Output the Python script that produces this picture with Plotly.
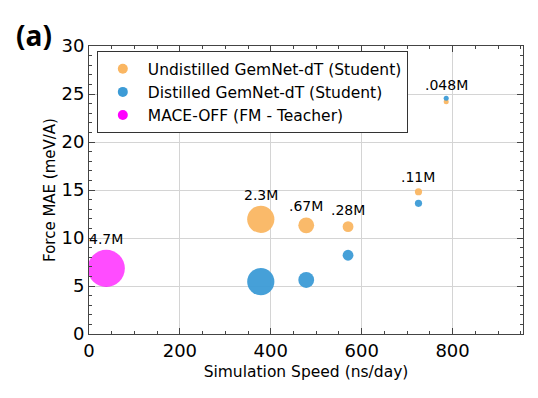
import plotly.graph_objects as go

# ---- data ----
student_params = ["2.3M", ".67M", ".28M", ".11M", ".048M"]
student_params_m = [2.3, 0.67, 0.28, 0.11, 0.048]
student_speed = [378, 478, 570, 725, 786]
undistilled_mae = [11.95, 11.32, 11.18, 14.82, 24.2]
distilled_mae = [5.45, 5.63, 8.2, 13.61, 24.55]

teacher_params = ["4.7M"]
teacher_params_m = [4.7]
teacher_speed = [38]
teacher_mae = [6.84]

series_names = ["Undistilled GemNet-dT (Student)",
                "Distilled GemNet-dT (Student)",
                "MACE-OFF (FM - Teacher)"]

C_UND = "#FAB662"
C_DIS = "#3C9BD6"
C_MACE = "#FF00FF"
FONT = "DejaVu Sans"


def diam(p):
    return 18.9 * p ** 0.437


fig = go.Figure()

fig.add_trace(go.Scatter(x=student_speed, y=undistilled_mae, mode="markers",
                         marker=dict(color=C_UND, size=[diam(p) for p in student_params_m],
                                     line=dict(width=0), opacity=0.95),
                         showlegend=False, hoverinfo="skip"))
fig.add_trace(go.Scatter(x=student_speed, y=distilled_mae, mode="markers",
                         marker=dict(color=C_DIS, size=[diam(p) for p in student_params_m],
                                     line=dict(width=0), opacity=0.95),
                         showlegend=False, hoverinfo="skip"))
fig.add_trace(go.Scatter(x=teacher_speed, y=teacher_mae, mode="markers",
                         marker=dict(color=C_MACE, size=[diam(p) for p in teacher_params_m],
                                     line=dict(width=0)),
                         showlegend=False, hoverinfo="skip"))

for name, col in zip(series_names, [C_UND, C_DIS, C_MACE]):
    fig.add_trace(go.Scatter(x=[None], y=[None], mode="markers", name=name,
                             marker=dict(color=col, size=10, line=dict(width=0))))

annotations = []
for lab, p, x, yu, yd in zip(student_params, student_params_m, student_speed,
                             undistilled_mae, distilled_mae):
    annotations.append(dict(x=x, y=max(yu, yd), xref="x", yref="y", text=lab,
                            showarrow=False, yanchor="bottom", xanchor="center",
                            yshift=diam(p) / 2 + 1,
                            font=dict(family=FONT, size=14, color="black")))
for lab, p, x, y in zip(teacher_params, teacher_params_m, teacher_speed, teacher_mae):
    annotations.append(dict(x=x, y=y, xref="x", yref="y", text=lab,
                            showarrow=False, yanchor="bottom", xanchor="center",
                            yshift=diam(p) / 2 + 1,
                            font=dict(family=FONT, size=14, color="black")))
annotations.append(dict(x=-0.1256, y=1.0365, xref="paper", yref="paper",
                        text="<b>(a)</b>", showarrow=False, xanchor="center",
                        yanchor="middle", font=dict(family="Open Sans", size=28, color="black")))

axis_common = dict(
    showline=True, linecolor="#444444", linewidth=1, mirror="allticks",
    ticks="inside", ticklen=6, tickcolor="#444444",
    showgrid=True, gridcolor="#d4d4d4", gridwidth=1, zeroline=False,
    tickfont=dict(family=FONT, size=18, color="black"),
    automargin=False,
)

fig.update_layout(
    width=530, height=390,
    margin=dict(l=81, r=15, t=38, b=64),
    paper_bgcolor="white", plot_bgcolor="white",
    font=dict(family=FONT, color="black"),
    xaxis=dict(range=[0, 955], dtick=200, tick0=0,
               minor=dict(dtick=50, ticks="inside", ticklen=3, tickcolor="#444444", showgrid=False),
               title=dict(text="Simulation Speed (ns/day)", font=dict(family=FONT, size=15.5), standoff=6),
               **axis_common),
    yaxis=dict(range=[0, 30], dtick=5, tick0=0,
               minor=dict(dtick=1, ticks="inside", ticklen=3, tickcolor="#444444", showgrid=False),
               title=dict(text="Force MAE (meV/A)", font=dict(family=FONT, size=15), standoff=2),
               **axis_common),
    legend=dict(x=0.018, y=0.982, xanchor="left", yanchor="top",
                bgcolor="white", bordercolor="#333333", borderwidth=1,
                itemwidth=40,
                font=dict(family=FONT, size=15.5, color="black")),
    annotations=annotations,
    showlegend=True,
)

fig.write_html("out.html")
